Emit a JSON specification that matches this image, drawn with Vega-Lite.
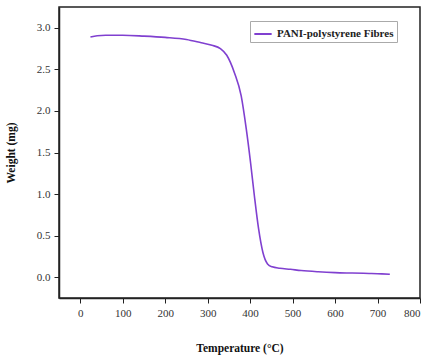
{
  "$schema": "https://vega.github.io/schema/vega-lite/v6.json",
  "width": 361,
  "height": 291,
  "padding": {"left": 5, "top": 7, "right": 12, "bottom": 5},
  "background": "white",
  "config": {
    "view": {"stroke": "#222", "strokeWidth": 1.5},
    "font": "Liberation Serif"
  },
  "data": {
    "values": [
      {"t": 24, "w": 2.89, "s": "PANI-polystyrene Fibres"},
      {"t": 40, "w": 2.905, "s": "PANI-polystyrene Fibres"},
      {"t": 60, "w": 2.91, "s": "PANI-polystyrene Fibres"},
      {"t": 100, "w": 2.91, "s": "PANI-polystyrene Fibres"},
      {"t": 150, "w": 2.9, "s": "PANI-polystyrene Fibres"},
      {"t": 200, "w": 2.885, "s": "PANI-polystyrene Fibres"},
      {"t": 250, "w": 2.86, "s": "PANI-polystyrene Fibres"},
      {"t": 285, "w": 2.82, "s": "PANI-polystyrene Fibres"},
      {"t": 310, "w": 2.79, "s": "PANI-polystyrene Fibres"},
      {"t": 330, "w": 2.75, "s": "PANI-polystyrene Fibres"},
      {"t": 345, "w": 2.67, "s": "PANI-polystyrene Fibres"},
      {"t": 363, "w": 2.46, "s": "PANI-polystyrene Fibres"},
      {"t": 379, "w": 2.18, "s": "PANI-polystyrene Fibres"},
      {"t": 391, "w": 1.78, "s": "PANI-polystyrene Fibres"},
      {"t": 401, "w": 1.38, "s": "PANI-polystyrene Fibres"},
      {"t": 410, "w": 0.98, "s": "PANI-polystyrene Fibres"},
      {"t": 420, "w": 0.58, "s": "PANI-polystyrene Fibres"},
      {"t": 430, "w": 0.3, "s": "PANI-polystyrene Fibres"},
      {"t": 441, "w": 0.16, "s": "PANI-polystyrene Fibres"},
      {"t": 452, "w": 0.125, "s": "PANI-polystyrene Fibres"},
      {"t": 470, "w": 0.108, "s": "PANI-polystyrene Fibres"},
      {"t": 495, "w": 0.095, "s": "PANI-polystyrene Fibres"},
      {"t": 520, "w": 0.08, "s": "PANI-polystyrene Fibres"},
      {"t": 560, "w": 0.065, "s": "PANI-polystyrene Fibres"},
      {"t": 600, "w": 0.055, "s": "PANI-polystyrene Fibres"},
      {"t": 640, "w": 0.05, "s": "PANI-polystyrene Fibres"},
      {"t": 680, "w": 0.045, "s": "PANI-polystyrene Fibres"},
      {"t": 710, "w": 0.04, "s": "PANI-polystyrene Fibres"},
      {"t": 729, "w": 0.035, "s": "PANI-polystyrene Fibres"}
    ]
  },
  "mark": {"type": "line", "strokeWidth": 1.6, "interpolate": "monotone"},
  "encoding": {
    "x": {
      "field": "t", "type": "quantitative",
      "scale": {"domain": [-50, 800], "nice": false, "zero": false},
      "axis": {
        "values": [0, 100, 200, 300, 400, 500, 600, 700, 800],
        "title": "Temperature (°C)", "grid": false,
        "domainColor": "#222", "domainWidth": 1.5, "tickColor": "#222", "tickSize": 5,
        "labelFont": "Liberation Serif", "labelFontSize": 11, "labelColor": "#333", "labelPadding": 4,
        "titleFont": "Liberation Serif", "titleFontSize": 11.5, "titleFontWeight": "bold", "titleColor": "#111", "titlePadding": 24
      }
    },
    "y": {
      "field": "w", "type": "quantitative",
      "scale": {"domain": [-0.25, 3.25], "nice": false, "zero": false},
      "axis": {
        "values": [0, 0.5, 1, 1.5, 2, 2.5, 3], "format": ".1f",
        "title": "Weight (mg)", "grid": false,
        "domainColor": "#222", "domainWidth": 1.5, "tickColor": "#222", "tickSize": 5,
        "labelFont": "Liberation Serif", "labelFontSize": 11, "labelColor": "#333", "labelPadding": 4,
        "titleFont": "Liberation Serif", "titleFontSize": 11.5, "titleFontWeight": "bold", "titleColor": "#111", "titlePadding": 20
      }
    },
    "color": {
      "field": "s", "type": "nominal",
      "scale": {"range": ["#8040d0"]},
      "legend": {
        "title": null, "orient": "none", "legendX": 191, "legendY": 14,
        "symbolType": "stroke", "symbolSize": 300, "symbolStrokeWidth": 2,
        "labelFont": "Liberation Serif", "labelFontSize": 11, "labelFontWeight": "bold", "labelColor": "#222",
        "strokeColor": "#aaa", "padding": 3
      }
    }
  }
}
